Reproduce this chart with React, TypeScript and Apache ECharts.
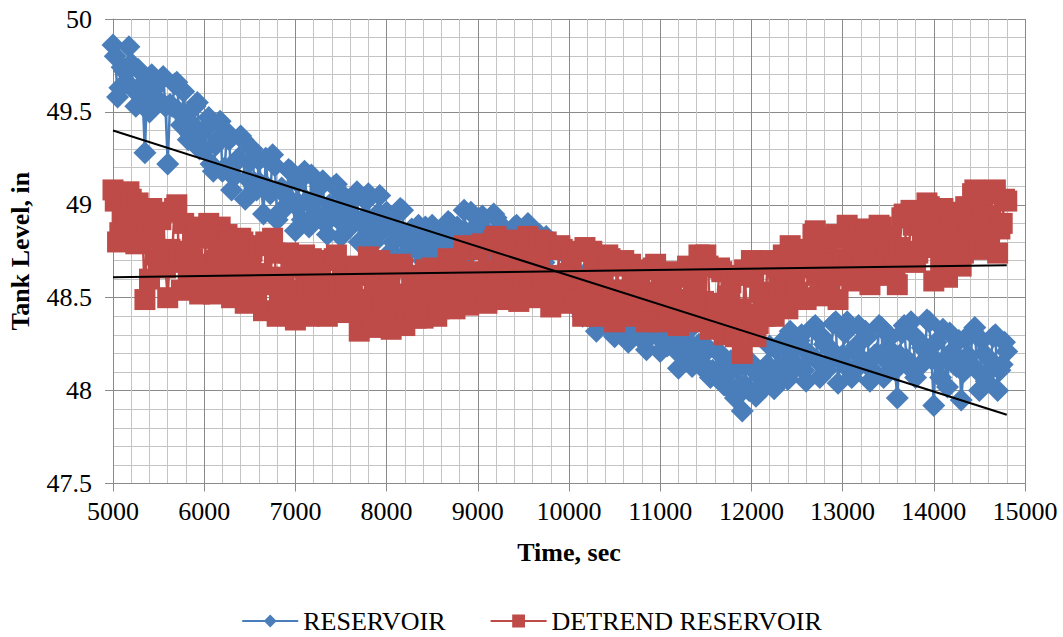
import React, { useEffect, useRef } from "react";
import * as echarts from "echarts";

// Sample times (s), one row per 200 s
const TIME_SEC = [
  5000, 5025, 5050, 5075, 5100, 5125, 5150, 5175,
  5200, 5225, 5250, 5275, 5300, 5325, 5350, 5375,
  5400, 5425, 5450, 5475, 5500, 5525, 5550, 5575,
  5600, 5625, 5650, 5675, 5700, 5725, 5750, 5775,
  5800, 5825, 5850, 5875, 5900, 5925, 5950, 5975,
  6000, 6025, 6050, 6075, 6100, 6125, 6150, 6175,
  6200, 6225, 6250, 6275, 6300, 6325, 6350, 6375,
  6400, 6425, 6450, 6475, 6500, 6525, 6550, 6575,
  6600, 6625, 6650, 6675, 6700, 6725, 6750, 6775,
  6800, 6825, 6850, 6875, 6900, 6925, 6950, 6975,
  7000, 7025, 7050, 7075, 7100, 7125, 7150, 7175,
  7200, 7225, 7250, 7275, 7300, 7325, 7350, 7375,
  7400, 7425, 7450, 7475, 7500, 7525, 7550, 7575,
  7600, 7625, 7650, 7675, 7700, 7725, 7750, 7775,
  7800, 7825, 7850, 7875, 7900, 7925, 7950, 7975,
  8000, 8025, 8050, 8075, 8100, 8125, 8150, 8175,
  8200, 8225, 8250, 8275, 8300, 8325, 8350, 8375,
  8400, 8425, 8450, 8475, 8500, 8525, 8550, 8575,
  8600, 8625, 8650, 8675, 8700, 8725, 8750, 8775,
  8800, 8825, 8850, 8875, 8900, 8925, 8950, 8975,
  9000, 9025, 9050, 9075, 9100, 9125, 9150, 9175,
  9200, 9225, 9250, 9275, 9300, 9325, 9350, 9375,
  9400, 9425, 9450, 9475, 9500, 9525, 9550, 9575,
  9600, 9625, 9650, 9675, 9700, 9725, 9750, 9775,
  9800, 9825, 9850, 9875, 9900, 9925, 9950, 9975,
  10000, 10025, 10050, 10075, 10100, 10125, 10150, 10175,
  10200, 10225, 10250, 10275, 10300, 10325, 10350, 10375,
  10400, 10425, 10450, 10475, 10500, 10525, 10550, 10575,
  10600, 10625, 10650, 10675, 10700, 10725, 10750, 10775,
  10800, 10825, 10850, 10875, 10900, 10925, 10950, 10975,
  11000, 11025, 11050, 11075, 11100, 11125, 11150, 11175,
  11200, 11225, 11250, 11275, 11300, 11325, 11350, 11375,
  11400, 11425, 11450, 11475, 11500, 11525, 11550, 11575,
  11600, 11625, 11650, 11675, 11700, 11725, 11750, 11775,
  11800, 11825, 11850, 11875, 11900, 11925, 11950, 11975,
  12000, 12025, 12050, 12075, 12100, 12125, 12150, 12175,
  12200, 12225, 12250, 12275, 12300, 12325, 12350, 12375,
  12400, 12425, 12450, 12475, 12500, 12525, 12550, 12575,
  12600, 12625, 12650, 12675, 12700, 12725, 12750, 12775,
  12800, 12825, 12850, 12875, 12900, 12925, 12950, 12975,
  13000, 13025, 13050, 13075, 13100, 13125, 13150, 13175,
  13200, 13225, 13250, 13275, 13300, 13325, 13350, 13375,
  13400, 13425, 13450, 13475, 13500, 13525, 13550, 13575,
  13600, 13625, 13650, 13675, 13700, 13725, 13750, 13775,
  13800, 13825, 13850, 13875, 13900, 13925, 13950, 13975,
  14000, 14025, 14050, 14075, 14100, 14125, 14150, 14175,
  14200, 14225, 14250, 14275, 14300, 14325, 14350, 14375,
  14400, 14425, 14450, 14475, 14500, 14525, 14550, 14575,
  14600, 14625, 14650, 14675, 14700, 14725, 14750, 14775,
  14800,
];

// Tank level, raw reservoir reading (in)
const RESERVOIR = [
  49.86, 49.8, 49.58, 49.63, 49.74, 49.72, 49.66, 49.85,
  49.76, 49.62, 49.53, 49.73, 49.64, 49.58, 49.28, 49.66,
  49.5, 49.7, 49.62, 49.57, 49.56, 49.67, 49.69, 49.53,
  49.22, 49.54, 49.53, 49.65, 49.66, 49.5, 49.43, 49.61,
  49.46, 49.35, 49.38, 49.43, 49.53, 49.55, 49.3, 49.39,
  49.3, 49.41, 49.47, 49.22, 49.18, 49.32, 49.35, 49.45,
  49.18, 49.2, 49.39, 49.35, 49.08, 49.15, 49.23, 49.25,
  49.37, 49.35, 49.03, 49.14, 49.23, 49.3, 49.12, 49.08,
  49.24, 49.11, 48.95, 49.25, 49.09, 49.06, 49.27, 49.21,
  48.92, 48.96, 49.09, 49.06, 48.99, 49.19, 49.18, 49.01,
  48.86, 49.12, 49.0, 48.92, 49.18, 49.02, 48.88, 49.16,
  49.03, 48.95, 48.94, 49.1, 49.13, 48.9, 48.84, 49.0,
  48.95, 49.1, 49.11, 48.92, 48.83, 49.05, 48.99, 48.87,
  48.88, 48.94, 49.05, 49.07, 48.8, 48.9, 48.93, 49.02,
  49.06, 48.84, 48.79, 48.92, 48.95, 49.05, 48.86, 48.88,
  48.96, 48.93, 48.75, 48.8, 48.85, 48.87, 48.98, 48.97,
  48.73, 48.79, 48.83, 48.87, 48.78, 48.76, 48.89, 48.82,
  48.7, 48.88, 48.79, 48.77, 48.89, 48.85, 48.71, 48.74,
  48.83, 48.81, 48.77, 48.91, 48.9, 48.78, 48.7, 48.88,
  48.83, 48.77, 48.97, 48.85, 48.73, 48.96, 48.87, 48.81,
  48.79, 48.91, 48.94, 48.77, 48.72, 48.84, 48.83, 48.95,
  48.93, 48.78, 48.71, 48.88, 48.84, 48.75, 48.77, 48.82,
  48.88, 48.89, 48.66, 48.74, 48.77, 48.85, 48.9, 48.71,
  48.61, 48.73, 48.75, 48.84, 48.68, 48.69, 48.83, 48.8,
  48.48, 48.54, 48.61, 48.62, 48.76, 48.75, 48.49, 48.58,
  48.54, 48.59, 48.47, 48.45, 48.62, 48.52, 48.4, 48.63,
  48.42, 48.4, 48.56, 48.51, 48.32, 48.36, 48.46, 48.44,
  48.35, 48.49, 48.48, 48.36, 48.29, 48.46, 48.38, 48.33,
  48.46, 48.36, 48.26, 48.45, 48.38, 48.32, 48.31, 48.42,
  48.4, 48.26, 48.22, 48.32, 48.31, 48.41, 48.42, 48.29,
  48.21, 48.34, 48.31, 48.24, 48.25, 48.29, 48.36, 48.37,
  48.12, 48.19, 48.21, 48.28, 48.32, 48.16, 48.13, 48.22,
  48.18, 48.25, 48.13, 48.14, 48.24, 48.22, 48.07, 48.11,
  48.1, 48.11, 48.2, 48.19, 48.03, 48.08, 48.13, 48.16,
  47.99, 47.96, 48.12, 48.03, 47.89, 48.13, 48.02, 48.0,
  48.15, 48.11, 47.97, 48.0, 48.07, 48.06, 48.02, 48.14,
  48.24, 48.1, 48.01, 48.22, 48.13, 48.06, 48.27, 48.14,
  48.06, 48.32, 48.22, 48.15, 48.13, 48.27, 48.3, 48.11,
  48.05, 48.2, 48.19, 48.34, 48.35, 48.16, 48.07, 48.29,
  48.25, 48.11, 48.15, 48.22, 48.36, 48.37, 48.04, 48.16,
  48.19, 48.31, 48.37, 48.11, 48.07, 48.21, 48.24, 48.35,
  48.14, 48.16, 48.32, 48.29, 48.05, 48.11, 48.19, 48.2,
  48.35, 48.34, 48.07, 48.16, 48.23, 48.29, 48.14, 48.11,
  47.96, 48.19, 48.31, 48.35, 48.17, 48.13, 48.37, 48.3,
  48.07, 48.12, 48.26, 48.23, 48.16, 48.38, 48.37, 48.17,
  47.92, 48.26, 48.15, 48.07, 48.33, 48.17, 48.02, 48.31,
  48.21, 48.14, 48.13, 48.27, 47.95, 48.1, 48.28, 48.19,
  48.14, 48.32, 48.34, 48.11, 48.0, 48.27, 48.2, 48.05,
  48.1, 48.16, 48.29, 48.3, 48.0, 48.11, 48.14, 48.26,
  48.21,
];

// Tank level with the linear drift removed (in)
const DETREND_RESERVOIR = [
  49.08, 49.02, 48.8, 48.85, 48.96, 48.94, 48.88, 49.07,
  49.03, 48.88, 48.79, 49.01, 48.91, 48.84, 48.49, 48.92,
  48.6, 48.98, 48.83, 48.73, 48.71, 48.92, 48.96, 48.66,
  48.5, 48.76, 48.74, 48.98, 49.0, 48.69, 48.54, 48.9,
  48.75, 48.6, 48.63, 48.71, 48.86, 48.88, 48.52, 48.65,
  48.68, 48.82, 48.9, 48.58, 48.52, 48.7, 48.74, 48.88,
  48.61, 48.63, 48.84, 48.8, 48.5, 48.58, 48.67, 48.69,
  48.82, 48.8, 48.47, 48.58, 48.67, 48.75, 48.56, 48.52,
  48.78, 48.63, 48.43, 48.8, 48.61, 48.57, 48.82, 48.74,
  48.4, 48.46, 48.61, 48.57, 48.49, 48.74, 48.72, 48.51,
  48.38, 48.66, 48.54, 48.45, 48.73, 48.56, 48.4, 48.71,
  48.6, 48.52, 48.5, 48.66, 48.7, 48.47, 48.4, 48.57,
  48.55, 48.71, 48.73, 48.52, 48.42, 48.66, 48.6, 48.47,
  48.43, 48.51, 48.65, 48.67, 48.32, 48.45, 48.49, 48.62,
  48.72, 48.4, 48.34, 48.52, 48.56, 48.7, 48.44, 48.46,
  48.65, 48.61, 48.33, 48.4, 48.49, 48.51, 48.68, 48.66,
  48.35, 48.44, 48.52, 48.59, 48.43, 48.39, 48.62, 48.49,
  48.39, 48.65, 48.51, 48.48, 48.66, 48.61, 48.4, 48.44,
  48.61, 48.58, 48.52, 48.71, 48.69, 48.54, 48.44, 48.66,
  48.59, 48.51, 48.78, 48.61, 48.46, 48.76, 48.64, 48.56,
  48.58, 48.76, 48.79, 48.54, 48.47, 48.65, 48.63, 48.81,
  48.83, 48.6, 48.49, 48.76, 48.69, 48.54, 48.58, 48.65,
  48.8, 48.81, 48.48, 48.6, 48.64, 48.76, 48.83, 48.55,
  48.5, 48.66, 48.69, 48.81, 48.59, 48.6, 48.8, 48.76,
  48.45, 48.52, 48.6, 48.62, 48.78, 48.76, 48.47, 48.57,
  48.63, 48.71, 48.52, 48.48, 48.75, 48.6, 48.4, 48.77,
  48.55, 48.51, 48.75, 48.68, 48.4, 48.45, 48.6, 48.57,
  48.48, 48.73, 48.71, 48.5, 48.37, 48.67, 48.54, 48.45,
  48.7, 48.54, 48.4, 48.68, 48.57, 48.49, 48.48, 48.64,
  48.65, 48.43, 48.37, 48.53, 48.51, 48.66, 48.68, 48.48,
  48.37, 48.6, 48.54, 48.41, 48.44, 48.51, 48.63, 48.64,
  48.35, 48.46, 48.49, 48.61, 48.67, 48.41, 48.37, 48.51,
  48.58, 48.73, 48.46, 48.48, 48.73, 48.67, 48.33, 48.41,
  48.45, 48.47, 48.66, 48.64, 48.3, 48.41, 48.51, 48.58,
  48.34, 48.29, 48.62, 48.44, 48.2, 48.65, 48.41, 48.36,
  48.7, 48.61, 48.29, 48.36, 48.53, 48.49, 48.4, 48.68,
  48.7, 48.52, 48.4, 48.66, 48.55, 48.47, 48.73, 48.57,
  48.44, 48.78, 48.65, 48.55, 48.53, 48.72, 48.76, 48.5,
  48.49, 48.68, 48.66, 48.84, 48.86, 48.62, 48.51, 48.79,
  48.71, 48.56, 48.6, 48.68, 48.82, 48.84, 48.49, 48.62,
  48.71, 48.83, 48.89, 48.63, 48.59, 48.73, 48.76, 48.87,
  48.67, 48.68, 48.86, 48.83, 48.57, 48.63, 48.71, 48.73,
  48.89, 48.88, 48.62, 48.71, 48.78, 48.83, 48.69, 48.67,
  48.57, 48.77, 48.93, 48.95, 48.75, 48.71, 48.97, 48.89,
  48.69, 48.74, 48.89, 48.85, 48.78, 49.01, 48.99, 48.8,
  48.59, 48.9, 48.77, 48.67, 48.98, 48.79, 48.61, 48.96,
  48.88, 48.79, 48.78, 48.95, 48.67, 48.74, 48.99, 48.85,
  48.89, 49.06, 49.08, 48.86, 48.76, 49.01, 48.94, 48.81,
  48.85, 48.92, 49.06, 49.08, 48.74, 48.87, 48.9, 49.03,
  49.02,
];

// Linear trend end points [time, level]
const TREND_RESERVOIR: [number, number][] = [
  [5000, 49.4],
  [14800, 47.87],
];
const TREND_DETREND: [number, number][] = [
  [5000, 48.61],
  [14800, 48.675],
];

const SERIES_NAMES = ["RESERVOIR", "DETREND RESERVOIR"];

const FONT = "'Liberation Serif', 'Times New Roman', serif";
const BLUE = "#4a7ebb";
const RED = "#be4b48";
const MAJOR_GRID = "#8a8a8a";
const MINOR_GRID = "#c4c4c4";

const pair = (vals: number[]) => TIME_SEC.map((t, i) => [t, vals[i]]);

export default function App() {
  const ref = useRef<HTMLDivElement>(null);

  useEffect(() => {
    if (!ref.current) return;
    const chart = echarts.init(ref.current, null, { renderer: "svg" });

    const axisCommon = {
      axisLine: { show: true, lineStyle: { color: MAJOR_GRID, width: 1 } },
      axisTick: { show: true, inside: false, length: 8, lineStyle: { color: MAJOR_GRID } },
      splitLine: { show: true, lineStyle: { color: MAJOR_GRID, width: 1 } },
      minorTick: { show: false, splitNumber: 5 },
      minorSplitLine: { show: true, lineStyle: { color: MINOR_GRID, width: 1 } },
      nameLocation: "middle" as const,
      nameTextStyle: { fontFamily: FONT, fontWeight: "bold" as const, fontSize: 26, color: "#000" },
    };

    chart.setOption({
      animation: false,
      backgroundColor: "#fff",
      grid: {
        left: 113,
        right: 38,
        top: 19,
        bottom: 153.5,
        containLabel: false,
        outerBoundsMode: "none",
      },
      xAxis: {
        type: "value",
        min: 5000,
        max: 15000,
        interval: 1000,
        ...axisCommon,
        name: "Time, sec",
        nameGap: 56,
        axisLabel: {
          fontFamily: FONT,
          fontSize: 26,
          color: "#000",
          margin: 15,
          formatter: (v: number) => String(v),
        },
      },
      yAxis: {
        type: "value",
        min: 47.5,
        max: 50,
        interval: 0.5,
        ...axisCommon,
        name: "Tank Level, in",
        nameGap: 80,
        axisLabel: { fontFamily: FONT, fontSize: 26, color: "#000", margin: 21 },
      },
      legend: {
        data: SERIES_NAMES,
        top: 603,
        left: "center",
        itemWidth: 56,
        itemHeight: 16,
        itemGap: 44,
        textStyle: { fontFamily: FONT, fontSize: 26, color: "#000" },
      },
      series: [
        {
          name: SERIES_NAMES[0],
          type: "line",
          data: pair(RESERVOIR),
          symbol: "diamond",
          symbolSize: 23,
          showAllSymbol: true,
          itemStyle: { color: BLUE },
          lineStyle: { color: BLUE, width: 2.5 },
          z: 2,
        },
        {
          name: SERIES_NAMES[1],
          type: "line",
          data: pair(DETREND_RESERVOIR),
          symbol: "rect",
          symbolSize: 21,
          showAllSymbol: true,
          itemStyle: { color: RED },
          lineStyle: { color: RED, width: 2.5 },
          z: 3,
        },
        {
          name: "trend-reservoir",
          type: "line",
          data: TREND_RESERVOIR,
          symbol: "none",
          lineStyle: { color: "#000", width: 2 },
          z: 4,
        },
        {
          name: "trend-detrend",
          type: "line",
          data: TREND_DETREND,
          symbol: "none",
          lineStyle: { color: "#000", width: 2 },
          z: 4,
        },
      ],
    });

    return () => chart.dispose();
  }, []);

  return (
    <div
      ref={ref}
      style={{ position: "fixed", left: 0, top: 0, width: 1063, height: 637, background: "#fff" }}
    />
  );
}
